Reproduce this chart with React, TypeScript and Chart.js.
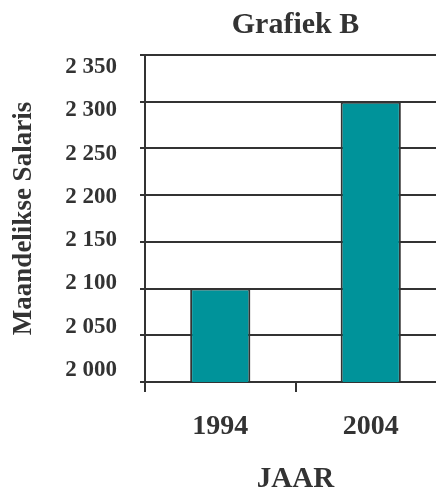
import React, { useEffect, useRef } from "react";
import { Chart, registerables } from "chart.js";

Chart.register(...registerables);

const categories = ["1994", "2004"];
const salaries = [2100, 2300];
const yTickValues = [2000, 2050, 2100, 2150, 2200, 2250, 2300, 2350];
const Y_MIN = 2000;
const Y_MAX = 2350;
const Y_STEP = 50;

const chartTitle = "Grafiek B";
const yTitle = "Maandelikse Salaris";
const xTitle = "JAAR";

const FONT = "'Liberation Serif', 'Times New Roman', serif";
const INK = "#333333";
const TEAL = "#00939a";
const LABEL_INSET = 13.9;
const LABEL_AXIS_WIDTH = 140;

const fmt = (v: number) => String(v).replace(/\B(?=(\d{3})+(?!\d))/g, " ");

export default function App() {
  const ref = useRef<HTMLCanvasElement | null>(null);

  useEffect(() => {
    if (!ref.current) return;
    const chart = new Chart(ref.current, {
      type: "bar",
      data: {
        labels: categories,
        datasets: [
          {
            data: salaries,
            backgroundColor: TEAL,
            borderColor: INK,
            borderWidth: 2,
            categoryPercentage: 1,
            barPercentage: 0.4,
          },
        ],
      },
      options: {
        responsive: false,
        animation: false,
        devicePixelRatio: 1,
        layout: { padding: { left: 0, right: 0, top: 0, bottom: 0 } },
        plugins: {
          legend: { display: false },
          tooltip: { enabled: false },
          title: {
            display: true,
            text: chartTitle,
            color: INK,
            fullSize: false,
            font: { family: FONT, size: 30, weight: "bold", lineHeight: 1.2 },
            padding: { top: 7, bottom: 12 },
          },
        },
        scales: {
          x: {
            type: "category",
            offset: true,
            grid: {
              offset: true,
              drawOnChartArea: false,
              drawTicks: true,
              tickLength: 10,
              color: INK,
              lineWidth: 2,
            },
            border: { display: true, color: INK, width: 2 },
            ticks: {
              color: INK,
              padding: 21,
              font: { family: FONT, size: 28, weight: "bold", lineHeight: 1 },
            },
            title: {
              display: true,
              text: xTitle,
              color: INK,
              font: { family: FONT, size: 29, weight: "bold", lineHeight: 1 },
              padding: { top: 3, bottom: -3 },
            },
          },
          y: {
            type: "linear",
            position: "left",
            weight: 0,
            min: Y_MIN,
            max: Y_MAX,
            ticks: { display: false, stepSize: Y_STEP },
            grid: {
              color: INK,
              lineWidth: 2,
              drawTicks: true,
              tickLength: 5,
            },
            border: { display: true, color: INK, width: 2 },
          },
          yl: {
            type: "linear",
            position: "left",
            weight: 1,
            min: Y_MIN - LABEL_INSET,
            max: Y_MAX + LABEL_INSET,
            afterBuildTicks: (scale: any) => {
              scale.ticks = yTickValues.map((v) => ({ value: v }));
            },
            afterFit: (scale: any) => {
              scale.width = LABEL_AXIS_WIDTH;
            },
            grid: { display: false, drawTicks: false, tickLength: 0 },
            border: { display: false },
            ticks: {
              autoSkip: false,
              color: INK,
              padding: 23,
              font: { family: FONT, size: 23, weight: "bold" },
              callback: (v: any) => fmt(Number(v)),
            },
            title: {
              display: true,
              text: yTitle,
              color: INK,
              font: { family: FONT, size: 27, weight: "bold", lineHeight: 1 },
              padding: { top: 10.5, bottom: 10 },
            },
          },
        },
      } as any,
    });
    return () => chart.destroy();
  }, []);

  return (
    <div
      style={{
        position: "fixed",
        left: 0,
        top: 0,
        width: 436,
        height: 491,
        overflow: "hidden",
        background: "#ffffff",
      }}
    >
      <canvas ref={ref} width={446} height={491} style={{ display: "block" }} />
    </div>
  );
}
